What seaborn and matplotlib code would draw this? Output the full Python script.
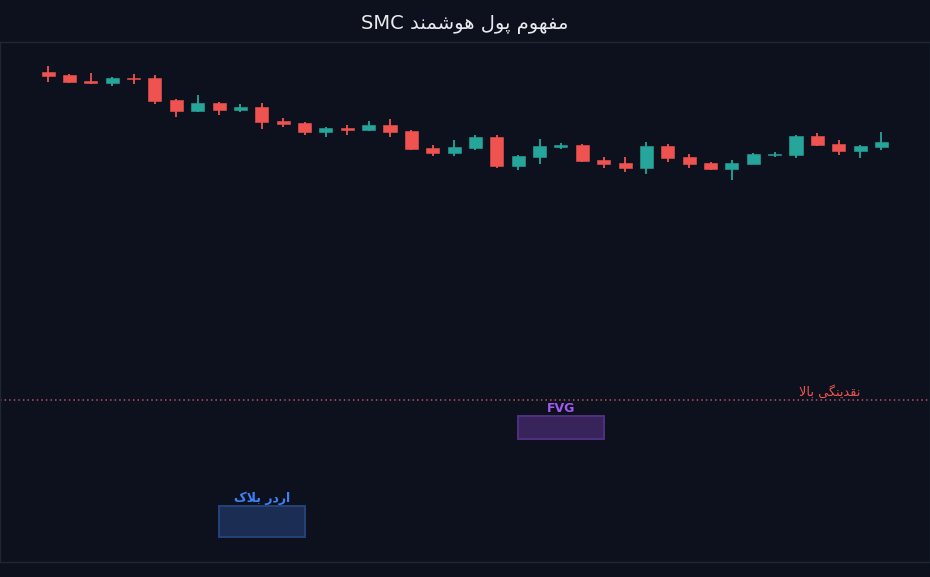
import re
import numpy as np
import pandas as pd
import seaborn as sns
import matplotlib.pyplot as plt
from matplotlib.patches import Rectangle

# ---- data (price units, 40 candles) ----
opens = [94.2, 93.7, 92.5, 92.1, 93.1, 93.1, 88.9, 86.7, 88.3, 86.9,
         87.5, 84.8, 84.4, 82.7, 83.5, 83.1, 84.0, 82.9, 79.6, 78.7,
         79.6, 81.7, 76.2, 77.9, 79.8, 80.2, 77.3, 76.7, 75.8, 80.0,
         77.9, 76.7, 75.6, 76.5, 78.3, 78.3, 81.9, 80.4, 79.0, 79.8]
highs = [95.4, 93.9, 94.0, 93.3, 93.9, 93.7, 89.0, 89.8, 88.5, 88.1,
         88.3, 85.4, 84.6, 83.7, 84.0, 84.8, 85.2, 83.1, 80.2, 81.2,
         82.1, 82.1, 78.3, 81.3, 80.6, 80.4, 77.9, 77.9, 80.8, 80.4,
         78.5, 76.9, 77.3, 78.7, 78.8, 82.1, 82.5, 81.2, 80.2, 82.7]
lows = [92.4, 92.2, 91.9, 91.5, 91.9, 88.1, 85.6, 86.5, 86.0, 86.5,
        83.3, 83.7, 82.1, 81.7, 82.1, 82.9, 81.7, 79.2, 78.1, 78.1,
        79.2, 75.8, 75.4, 76.5, 79.4, 76.9, 75.8, 75.0, 74.6, 76.9,
        75.8, 75.4, 73.5, 76.5, 77.9, 77.7, 80.0, 78.3, 77.7, 79.2]
closes = [93.5, 92.3, 92.1, 93.1, 92.9, 88.7, 86.7, 88.3, 86.9, 87.5,
          84.6, 84.2, 82.7, 83.5, 83.1, 84.0, 82.7, 79.4, 78.7, 79.8,
          81.7, 76.2, 78.1, 80.0, 80.2, 77.1, 76.5, 75.8, 80.0, 77.7,
          76.5, 75.6, 76.7, 78.5, 78.5, 81.9, 80.2, 79.0, 80.0, 80.8]

liquidity_level = 31.25
fvg_zone = (22, 26, 23.65, 28.1)        # x0, x1, y0, y1
ob_zone = (8, 12, 4.8, 10.8)

title_txt = "مفهوم پول هوشمند SMC"
liq_txt = "نقدینگی بالا"
fvg_txt = "FVG"
ob_txt = "اردر بلاک"

BG = '#0c111d'
UP = '#26a69a'
DOWN = '#ef5350'

# ---- minimal Persian shaping (matplotlib has no bidi / joining) ----
FORMS = {
    'ا': ('\uFE8D', '\uFE8E', None, None),
    'ب': ('\uFE8F', '\uFE90', '\uFE91', '\uFE92'),
    'پ': ('\uFB56', '\uFB57', '\uFB58', '\uFB59'),
    'د': ('\uFEA9', '\uFEAA', None, None),
    'ر': ('\uFEAD', '\uFEAE', None, None),
    'ش': ('\uFEB5', '\uFEB6', '\uFEB7', '\uFEB8'),
    'ف': ('\uFED1', '\uFED2', '\uFED3', '\uFED4'),
    'ق': ('\uFED5', '\uFED6', '\uFED7', '\uFED8'),
    'ک': ('\uFB8E', '\uFB8F', '\uFB90', '\uFB91'),
    'گ': ('\uFB92', '\uFB93', '\uFB94', '\uFB95'),
    'ل': ('\uFEDD', '\uFEDE', '\uFEDF', '\uFEE0'),
    'م': ('\uFEE1', '\uFEE2', '\uFEE3', '\uFEE4'),
    'ن': ('\uFEE5', '\uFEE6', '\uFEE7', '\uFEE8'),
    'ه': ('\uFEE9', '\uFEEA', '\uFEEB', '\uFEEC'),
    'و': ('\uFEED', '\uFEEE', None, None),
    'ی': ('\uFBFC', '\uFBFD', '\uFBFE', '\uFBFF'),
}
LAM_ALEF = ('\uFEFB', '\uFEFC')


def shape(seg):
    letters = []
    i = 0
    while i < len(seg):
        if seg[i] == 'ل' and i + 1 < len(seg) and seg[i + 1] == 'ا':
            letters.append('لا')
            i += 2
        else:
            letters.append(seg[i])
            i += 1
    out = []
    for k, ch in enumerate(letters):
        prev = letters[k - 1] if k > 0 else None
        nxt = letters[k + 1] if k + 1 < len(letters) else None
        joins_prev = prev in FORMS and FORMS[prev][2] is not None
        if ch == 'لا':
            out.append(LAM_ALEF[1] if joins_prev else LAM_ALEF[0])
            continue
        if ch not in FORMS:
            out.append(ch)
            continue
        iso, fin, ini, med = FORMS[ch]
        joins_next = ini is not None and (nxt in FORMS or nxt == 'لا')
        if joins_prev and joins_next:
            out.append(med)
        elif joins_prev:
            out.append(fin)
        elif joins_next:
            out.append(ini)
        else:
            out.append(iso)
    return ''.join(out)


def rtl(text):
    parts = re.split(r'([A-Za-z0-9]+)', text)
    parts = [p if re.fullmatch(r'[A-Za-z0-9]+', p) else shape(p)[::-1] for p in parts]
    return ''.join(parts[::-1])


# ---- style ----
sns.set_theme(style='dark', rc={
    'axes.facecolor': BG,
    'figure.facecolor': BG,
    'axes.edgecolor': '#1f2636',
    'axes.grid': False,
})
plt.rcParams['font.family'] = ['DejaVu Sans']

df = pd.DataFrame({'open': opens, 'high': highs, 'low': lows, 'close': closes})
df['idx'] = np.arange(len(df))
df['up'] = df['close'] >= df['open']
df['color'] = np.where(df['up'], UP, DOWN)
df['body_lo'] = df[['open', 'close']].min(axis=1)
df['body_h'] = (df['open'] - df['close']).abs().clip(lower=0.2)

fig = plt.figure(figsize=(9.3, 5.77), dpi=100)
ax = fig.add_axes([0.0, 0.026, 1.0, 0.901])

# wicks and bodies
ax.vlines(df['idx'], df['low'], df['high'], colors=df['color'], linewidth=1.3, zorder=2)
ax.bar(df['idx'], df['body_h'], bottom=df['body_lo'], width=0.61,
       color=df['color'], edgecolor=df['color'], linewidth=0.4, zorder=3)

# liquidity line
ax.axhline(liquidity_level, color='#f06a78', alpha=0.75, linestyle=(0, (1, 2)),
           linewidth=1.1, zorder=1)
ax.text(38, liquidity_level + 0.2, rtl(liq_txt), color=DOWN, fontsize=9.3,
        ha='right', va='bottom')

# FVG zone
x0, x1, y0, y1 = fvg_zone
ax.add_patch(Rectangle((x0, y0), x1 - x0, y1 - y0, facecolor='#36245a',
                       edgecolor='#50307f', linewidth=1.4, zorder=2))
ax.text((x0 + x1) / 2, y1 + 0.25, fvg_txt, color='#a259f0', fontsize=9,
        fontweight='bold', ha='center', va='bottom')

# order block zone
x0, x1, y0, y1 = ob_zone
ax.add_patch(Rectangle((x0, y0), x1 - x0, y1 - y0, facecolor='#1b2d52',
                       edgecolor='#24437a', linewidth=1.4, zorder=2))
ax.text((x0 + x1) / 2, y1 + 0.25, rtl(ob_txt), color='#3b82f6', fontsize=9,
        fontweight='bold', ha='center', va='bottom')

ax.set_xlim(-2.25, 41.27)
ax.set_ylim(0, 100)
ax.set_xticks([])
ax.set_yticks([])
for spine in ax.spines.values():
    spine.set_color('#1f2636')
    spine.set_linewidth(1.0)

fig.text(0.5, 0.958, rtl(title_txt), color='#e8eaed', fontsize=14,
         ha='center', va='center')

fig.savefig('out.png', dpi=100, facecolor=BG)
